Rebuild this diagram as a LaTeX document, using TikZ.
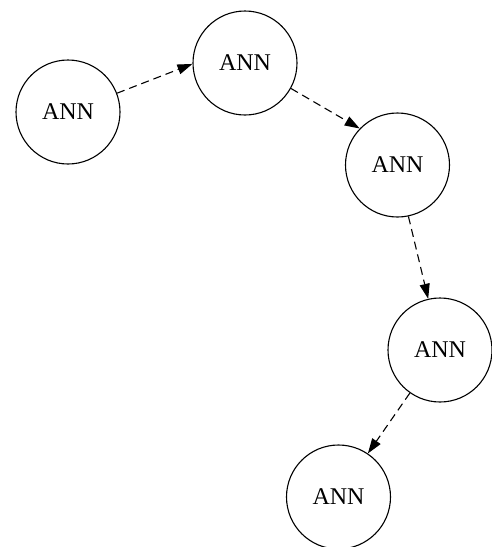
\documentclass[tikz,border=0pt]{standalone}
\usepackage{fontspec}
\setmainfont{Liberation Serif}
\usetikzlibrary{arrows.meta}
\tikzset{
  ann/.style={circle, draw, line width=1.1pt, minimum size=104pt, inner sep=0pt,
              font=\fontsize{24}{28}\selectfont},
  link/.style={draw, line width=1.1pt, dash pattern=on 8pt off 5pt,
               -{Triangle[length=15pt,width=10pt]}}
}
\begin{document}
\begin{tikzpicture}[x=1pt,y=-1pt]
  \useasboundingbox (0,0) rectangle (492,547);
  \node[ann] (a) at (68,112)    {ANN};
  \node[ann] (b) at (245,63)    {ANN};
  \node[ann] (c) at (397.5,165) {ANN};
  \node[ann] (d) at (440,350)   {ANN};
  \node[ann] (e) at (338.5,497) {ANN};
  \draw[link] (a.21)  -- (b.181);
  \draw[link] (b.-29) -- (c.136);
  \draw[link] (c.-78) -- (d.103);
  \draw[link] (d.235) -- (e.56);
\end{tikzpicture}
\end{document}
